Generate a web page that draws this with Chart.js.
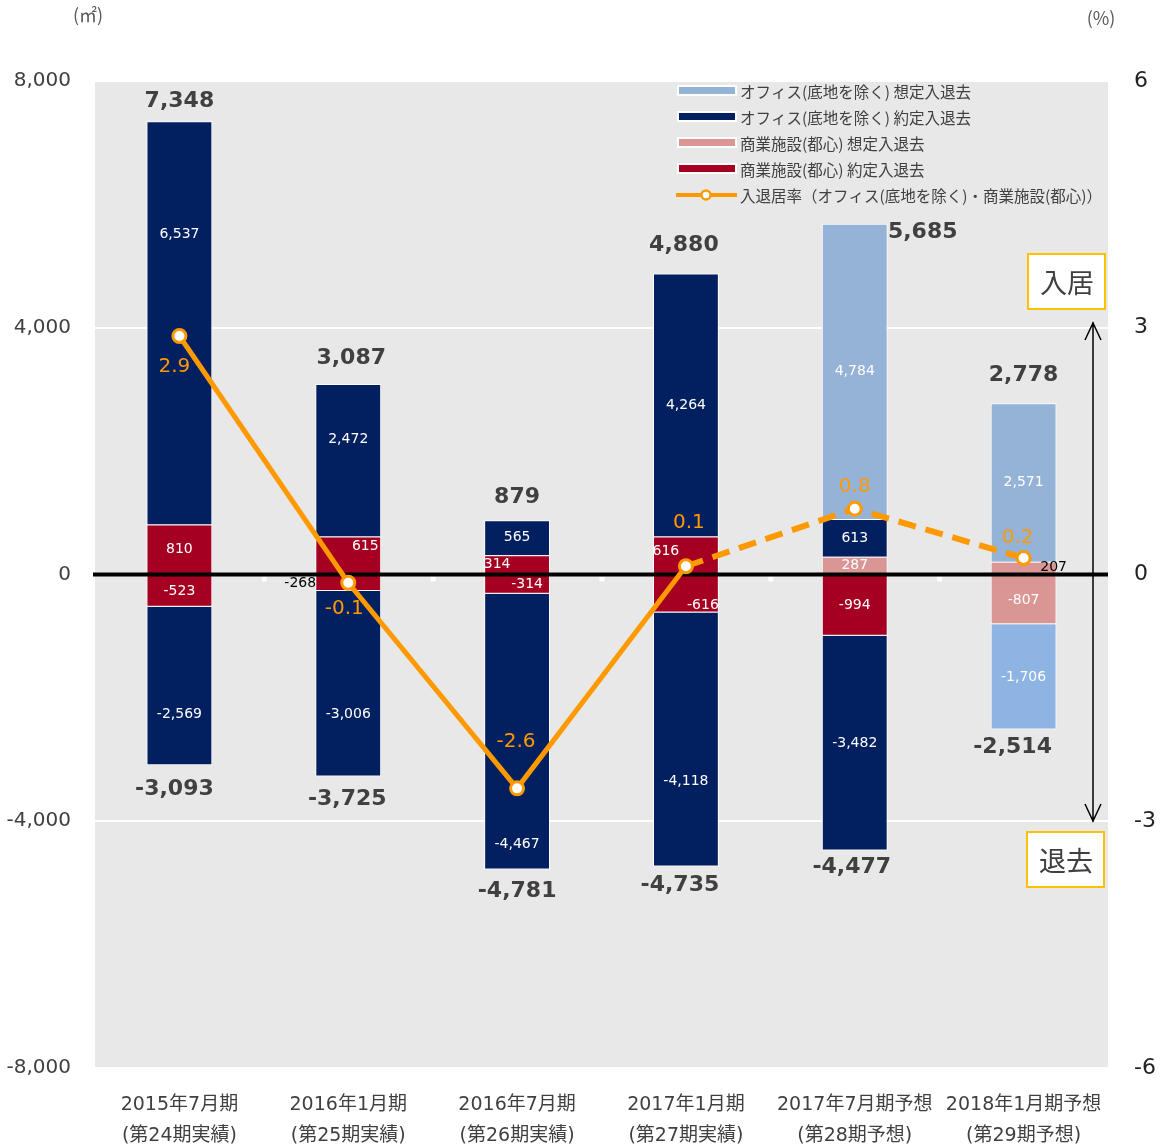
<!DOCTYPE html>
<html>
<head>
<meta charset="utf-8">
<script src="https://cdn.jsdelivr.net/npm/chart.js@4/dist/chart.umd.min.js"></script>
<style>
  html, body { margin: 0; padding: 0; background: #fff; }
  #wrap { width: 1162px; height: 1144px; }
</style>
</head>
<body>
<div id="wrap"><canvas id="chart" width="1162" height="1144"></canvas></div>
<script>
// categories
const periods = [
  ['2015年7月期', '(第24期実績)'],
  ['2016年1月期', '(第25期実績)'],
  ['2016年7月期', '(第26期実績)'],
  ['2017年1月期', '(第27期実績)'],
  ['2017年7月期予想', '(第28期予想)'],
  ['2018年1月期予想', '(第29期予想)']
];

// series (㎡)
const retailContractIn = [810, 615, 314, 616, null, null];
const retailContractOut = [-523, -268, -314, -616, -994, null];
const retailPlannedIn = [null, null, null, null, 287, 207];
const retailPlannedOut = [null, null, null, null, null, -807];
const officeContractIn = [6537, 2472, 565, 4264, 613, null];
const officeContractOut = [-2569, -3006, -4467, -4118, -3482, null];
const officePlannedIn = [null, null, null, null, 4784, 2571];
const officePlannedOut = [null, null, null, null, null, -1706];

// totals as printed on the chart
const totalIn = [7348, 3087, 879, 4880, 5685, 2778];
const totalOut = [-3093, -3725, -4781, -4735, -4477, -2514];

// occupancy movement rate (%)
const rate = [2.9, -0.1, -2.6, 0.1, 0.8, 0.2];

const legendItems = [
  'オフィス(底地を除く) 想定入退去',
  'オフィス(底地を除く) 約定入退去',
  '商業施設(都心) 想定入退去',
  '商業施設(都心) 約定入退去',
  '入退居率（オフィス(底地を除く)・商業施設(都心)）'
];

const NAVY = '#022060';
const RED = '#A50021';
const PINK = '#DA9694';
const BLUE = '#95B3D7';
const BLUE2 = '#8DB4E2';
const ORANGE = '#FF9900';
const TEXT = '#404040';
const NUM_FONT = '"DejaVu Sans", "Noto Sans CJK JP", sans-serif';
const JP_FONT = '"Noto Sans CJK JP", "DejaVu Sans", sans-serif';

// hand placed labels (like the original)
const segTweaks = {
  '4-0': { dy: -89 }, '4-1': { dy: -21 },
  '5-0': { dy: 28 }, '5-1': { dy: 31 }, '5-2': { dy: 113 }, '5-3': { dy: 42 },
  '0-1': { dx: 17, dy: -9 }, '1-1': { dx: -48, color: '#000' },
  '0-2': { dx: -20 }, '1-2': { dx: 10 },
  '0-3': { dx: -20, dy: -4 }, '1-3': { dx: 17, dy: 11 },
  '2-5': { dx: 30, color: '#000' }
};
const rateOffsets = [[-5, 31], [-4, 26], [-1, -47], [3, -43], [0, -22], [-6, -20]];
const topOffsets = [[0, -20], [3, -26], [0, -23], [-2, -28], [68, 8], [0, -28]];
const bottomOffsets = [[-5, 24], [-1, 23], [0, 22], [-6, 19], [-3, 17], [-11, 18]];

function fmt(v) {
  return v.toLocaleString('en-US');
}

function barSet(data, color) {
  return {
    type: 'bar',
    data: data,
    backgroundColor: color,
    borderColor: '#ffffff',
    borderWidth: 1,
    stack: 's',
    order: 1
  };
}

const chartDecor = {
  id: 'chartDecor',
  beforeDraw(chart) {
    const a = chart.chartArea;
    const ctx = chart.ctx;
    ctx.save();
    ctx.fillStyle = '#e8e8e8';
    ctx.fillRect(a.left, a.top - 1, a.right - a.left, a.bottom - a.top + 1);
    ctx.restore();
  },
  beforeDatasetDraw(chart, args) {
    if (args.index !== 8) return;
    const ctx = chart.ctx;
    const a = chart.chartArea;
    const yScale = chart.scales.y;
    ctx.save();
    // segment labels
    ctx.font = '14px ' + NUM_FONT;
    ctx.textAlign = 'center';
    ctx.textBaseline = 'middle';
    for (let d = 0; d < 8; d++) {
      const meta = chart.getDatasetMeta(d);
      const data = chart.data.datasets[d].data;
      meta.data.forEach((bar, i) => {
        const v = data[i];
        if (v === null || v === undefined) return;
        const p = bar.getProps(['x', 'y', 'base'], true);
        const t = segTweaks[d + '-' + i] || {};
        ctx.fillStyle = t.color || '#ffffff';
        ctx.fillText(fmt(v), p.x + (t.dx || 0), (p.y + p.base) / 2 + (t.dy || 0));
      });
    }
    // zero line and small tick marks
    const y0 = yScale.getPixelForValue(0);
    const catW = (a.right - a.left) / periods.length;
    ctx.fillStyle = '#ffffff';
    for (let k = 1; k < periods.length; k++) {
      ctx.fillRect(a.left + k * catW - 2, y0 + 2, 5, 5);
    }
    ctx.strokeStyle = '#000';
    ctx.lineWidth = 4;
    ctx.beginPath();
    ctx.moveTo(a.left - 2, y0);
    ctx.lineTo(a.right, y0);
    ctx.stroke();
    ctx.restore();
  },
  afterDatasetsDraw(chart) {
    const ctx = chart.ctx;
    const yScale = chart.scales.y;
    const xScale = chart.scales.x;
    ctx.save();

    // totals
    ctx.font = 'bold 22px ' + NUM_FONT;
    ctx.fillStyle = TEXT;
    ctx.textBaseline = 'middle';
    periods.forEach((p, i) => {
      const x = xScale.getPixelForValue(i);
      let top = 0, bottom = 0;
      for (let d = 0; d < 8; d++) {
        const v = chart.data.datasets[d].data[i];
        if (v > 0) top += v;
        if (v < 0) bottom += v;
      }
      const yt = yScale.getPixelForValue(top);
      const yb = yScale.getPixelForValue(bottom);
      const to = topOffsets[i];
      const bo = bottomOffsets[i];
      ctx.textAlign = i === 4 ? 'center' : 'center';
      ctx.fillText(fmt(totalIn[i]), x + to[0], yt + to[1]);
      ctx.fillText(fmt(totalOut[i]), x + bo[0], yb + bo[1]);
    });

    // rate labels
    const lineMeta = chart.getDatasetMeta(8);
    ctx.font = '20px ' + NUM_FONT;
    ctx.fillStyle = ORANGE;
    ctx.textAlign = 'center';
    lineMeta.data.forEach((pt, i) => {
      const o = rateOffsets[i];
      ctx.fillText(rate[i].toFixed(1), pt.x + o[0], pt.y + o[1]);
    });

    // legend
    const colors = [BLUE, NAVY, PINK, RED];
    ctx.font = '15.5px ' + JP_FONT;
    ctx.textAlign = 'left';
    legendItems.forEach((label, i) => {
      const y = 91 + i * 26;
      if (i < 4) {
        ctx.fillStyle = '#ffffff';
        ctx.fillRect(677, y - 6, 60, 11);
        ctx.fillStyle = colors[i];
        ctx.fillRect(679, y - 4, 56, 7);
      } else {
        ctx.strokeStyle = ORANGE;
        ctx.lineWidth = 4;
        ctx.beginPath();
        ctx.moveTo(676, y);
        ctx.lineTo(737, y);
        ctx.stroke();
        ctx.fillStyle = '#ffffff';
        ctx.lineWidth = 2.5;
        ctx.beginPath();
        ctx.arc(706, y, 4.5, 0, Math.PI * 2);
        ctx.fill();
        ctx.stroke();
      }
      ctx.fillStyle = TEXT;
      ctx.fillText(label, 740, y + 1);
    });

    // 入居 / 退去 boxes
    ctx.font = '27px ' + JP_FONT;
    [['入居', 1028, 254], ['退去', 1027, 832]].forEach(b => {
      ctx.fillStyle = '#ffffff';
      ctx.fillRect(b[1], b[2], 77, 55);
      ctx.strokeStyle = '#FFC000';
      ctx.lineWidth = 2;
      ctx.strokeRect(b[1], b[2], 77, 55);
      ctx.fillStyle = TEXT;
      ctx.textAlign = 'center';
      ctx.fillText(b[0], b[1] + 39, b[2] + 29);
    });

    // double arrow
    ctx.strokeStyle = '#000';
    ctx.lineWidth = 1.5;
    ctx.beginPath();
    ctx.moveTo(1093, 322);
    ctx.lineTo(1093, 822);
    ctx.moveTo(1085, 340);
    ctx.lineTo(1093, 323);
    ctx.lineTo(1101, 340);
    ctx.moveTo(1085, 804);
    ctx.lineTo(1093, 821);
    ctx.lineTo(1101, 804);
    ctx.stroke();

    // units
    ctx.font = '18px ' + JP_FONT;
    ctx.fillStyle = '#595959';
    ctx.textAlign = 'center';
    ctx.fillText('(㎡)', 88, 15);
    ctx.fillText('(%)', 1101, 18);
    ctx.restore();
  }
};

const ctx = document.getElementById('chart').getContext('2d');
new Chart(ctx, {
  data: {
    labels: periods,
    datasets: [
      barSet(retailContractIn, RED),
      barSet(retailContractOut, RED),
      barSet(retailPlannedIn, PINK),
      barSet(retailPlannedOut, PINK),
      barSet(officeContractIn, NAVY),
      barSet(officeContractOut, NAVY),
      barSet(officePlannedIn, BLUE),
      barSet(officePlannedOut, BLUE2),
      {
        type: 'line',
        data: rate,
        yAxisID: 'y1',
        borderColor: ORANGE,
        borderWidth: 5,
        borderCapStyle: 'butt',
        tension: 0,
        pointRadius: 6.5,
        pointBorderWidth: 3,
        pointBackgroundColor: '#ffffff',
        pointBorderColor: ORANGE,
        order: 0,
        segment: {
          borderDash: c => c.p0DataIndex >= 3 ? [18, 10] : undefined,
          borderWidth: c => c.p0DataIndex >= 3 ? 6 : 5
        }
      }
    ]
  },
  options: {
    responsive: false,
    animation: false,
    layout: { padding: { top: 81, left: 0, right: 0, bottom: 0 } },
    datasets: { bar: { barPercentage: 0.39, categoryPercentage: 1 } },
    plugins: {
      legend: { display: false },
      tooltip: { enabled: false }
    },
    scales: {
      x: {
        stacked: true,
        grid: { display: false },
        border: { display: false },
        ticks: {
          color: TEXT,
          padding: 14,
          maxRotation: 0,
          font: { size: 19, family: NUM_FONT, lineHeight: 1.62 }
        },
        afterFit(s) { s.height = 76; }
      },
      y: {
        stacked: true,
        min: -8000,
        max: 8000,
        ticks: {
          stepSize: 4000,
          color: TEXT,
          padding: 24,
          font: { size: 20, family: NUM_FONT }
        },
        grid: { color: '#ffffff', lineWidth: 2, drawTicks: false },
        border: { display: false },
        afterFit(s) { s.width = 95; }
      },
      y1: {
        position: 'right',
        min: -6,
        max: 6,
        ticks: {
          stepSize: 3,
          color: '#222',
          padding: 26,
          font: { size: 22, family: NUM_FONT }
        },
        grid: { drawOnChartArea: false, drawTicks: false },
        border: { display: false },
        afterFit(s) { s.width = 54; }
      }
    }
  },
  plugins: [chartDecor]
});
</script>
</body>
</html>
